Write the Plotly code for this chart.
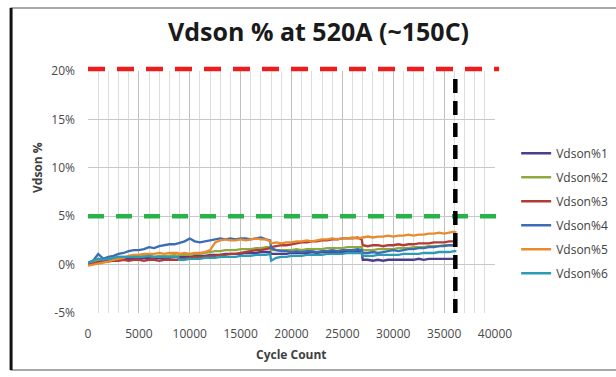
import plotly.graph_objects as go

# cycle counts at which the Vdson % readings were taken
cycles = [0, 500, 1000, 1500, 2000, 2500, 3000, 3500, 4000, 4500,
          5000, 5500, 6000, 6500, 7000, 7500, 8000, 8500, 8800, 9000,
          9500, 10000, 10500, 11000, 11500, 12000, 12500, 13000, 13500, 14000,
          14500, 15000, 15500, 16000, 16500, 17000, 17500, 17900, 18000, 18500,
          19000, 19500, 20000, 20500, 21000, 21500, 22000, 22500, 23000, 23500,
          24000, 24500, 25000, 25500, 26000, 26500, 26900, 27000, 27500, 28000,
          28500, 29000, 29500, 30000, 30500, 31000, 31500, 32000, 32500, 33000,
          33500, 34000, 34500, 35000, 35500, 36000, 36200]

vdson1 = [0.0, 0.2, 0.3, 0.4, 0.4, 0.5, 0.5, 0.6, 0.6, 0.6,
          0.6, 0.7, 0.7, 0.7, 0.7, 0.7, 0.7, 0.8, 0.8, 0.8,
          0.8, 0.8, 0.9, 0.9, 0.9, 1.0, 1.0, 1.0, 1.1, 1.1,
          1.1, 1.1, 1.2, 1.2, 1.2, 1.3, 1.3, 1.3, 1.1, 1.1,
          1.1, 1.1, 1.2, 1.2, 1.2, 1.2, 1.3, 1.2, 1.3, 1.3,
          1.3, 1.3, 1.3, 1.3, 1.3, 1.4, 1.3, 0.5, 0.5, 0.4,
          0.5, 0.4, 0.5, 0.5, 0.5, 0.5, 0.5, 0.5, 0.6, 0.5,
          0.6, 0.6, 0.6, 0.6, 0.6, 0.6, 0.7]

vdson2 = [0.1, 0.3, 0.5, 0.6, 0.6, 0.7, 0.8, 0.8, 0.8, 0.9,
          0.8, 0.9, 0.9, 0.8, 0.9, 0.9, 0.9, 1.0, 0.9, 1.0,
          1.0, 1.0, 1.1, 1.1, 1.2, 1.3, 1.4, 1.4, 1.5, 1.5,
          1.5, 1.6, 1.6, 1.6, 1.7, 1.7, 1.8, 1.8, 1.5, 1.5,
          1.5, 1.5, 1.5, 1.6, 1.5, 1.6, 1.6, 1.6, 1.6, 1.7,
          1.7, 1.7, 1.7, 1.8, 1.8, 1.8, 1.8, 1.5, 1.5, 1.5,
          1.6, 1.6, 1.6, 1.6, 1.7, 1.7, 1.7, 1.8, 1.8, 1.8,
          1.9, 1.9, 1.9, 2.0, 2.0, 2.0, 2.1]

vdson3 = [0.0, 0.1, 0.2, 0.3, 0.3, 0.4, 0.4, 0.5, 0.4, 0.5,
          0.5, 0.4, 0.5, 0.5, 0.4, 0.5, 0.5, 0.5, 0.5, 0.6,
          0.6, 0.7, 0.8, 0.8, 0.8, 0.9, 0.9, 1.0, 1.0, 1.1,
          1.1, 1.2, 1.3, 1.4, 1.5, 1.5, 1.6, 1.7, 1.8, 1.9,
          2.0, 2.0, 2.1, 2.2, 2.3, 2.3, 2.4, 2.4, 2.5, 2.5,
          2.6, 2.6, 2.7, 2.7, 2.7, 2.8, 2.6, 2.0, 1.9, 2.0,
          2.0, 1.9, 2.0, 2.0, 2.1, 2.0, 2.1, 2.1, 2.2, 2.2,
          2.2, 2.3, 2.3, 2.3, 2.4, 2.4, 2.5]

vdson4 = [0.2, 0.4, 1.1, 0.6, 0.8, 0.9, 1.1, 1.2, 1.4, 1.5,
          1.5, 1.6, 1.8, 1.7, 1.9, 2.0, 2.1, 2.1, 2.2, 2.3,
          2.4, 2.7, 2.4, 2.3, 2.4, 2.5, 2.6, 2.7, 2.6, 2.7,
          2.6, 2.7, 2.7, 2.6, 2.7, 2.8, 2.6, 2.5, 1.7, 1.5,
          1.4, 1.4, 1.3, 1.4, 1.3, 1.4, 1.4, 1.3, 1.4, 1.4,
          1.5, 1.4, 1.5, 1.5, 1.5, 1.6, 1.5, 1.2, 1.2, 1.3,
          1.2, 1.3, 1.4, 1.5, 1.4, 1.5, 1.6, 1.6, 1.7, 1.7,
          1.8, 1.8, 1.9, 1.9, 2.0, 2.0, 2.1]

vdson5 = [-0.1, 0.0, 0.1, 0.2, 0.3, 0.5, 0.6, 0.7, 0.9, 1.0,
          1.0, 1.1, 1.1, 1.1, 1.2, 1.1, 1.2, 1.2, 1.2, 1.1,
          1.2, 1.1, 1.2, 1.2, 1.3, 1.5, 2.3, 2.5, 2.6, 2.5,
          2.5, 2.6, 2.5, 2.6, 2.7, 2.6, 2.6, 2.4, 2.2, 2.3,
          2.2, 2.3, 2.3, 2.4, 2.4, 2.5, 2.4, 2.5, 2.6, 2.6,
          2.7, 2.6, 2.7, 2.7, 2.8, 2.7, 2.8, 2.8, 2.9, 2.8,
          2.9, 2.9, 3.0, 2.9, 3.0, 3.0, 3.1, 3.0, 3.1, 3.1,
          3.2, 3.2, 3.3, 3.2, 3.3, 3.4, 3.3]

vdson6 = [0.2, 0.4, 0.6, 0.5, 0.6, 0.7, 0.8, 0.8, 0.8, 0.8,
          0.8, 0.8, 0.9, 0.8, 0.8, 0.8, 0.8, 0.8, 0.8, 0.5,
          0.5, 0.6, 0.6, 0.6, 0.7, 0.7, 0.7, 0.8, 0.8, 0.8,
          0.8, 0.9, 0.9, 0.9, 1.0, 1.0, 1.0, 1.1, 0.4, 0.7,
          0.8, 0.8, 0.9, 0.9, 0.9, 1.0, 1.0, 1.0, 1.0, 1.1,
          1.1, 1.1, 1.1, 1.2, 1.2, 1.2, 1.2, 0.9, 0.9, 0.9,
          1.0, 1.0, 1.0, 1.0, 1.0, 1.1, 1.1, 1.1, 1.1, 1.2,
          1.2, 1.2, 1.3, 1.3, 1.3, 1.4, 1.4]

series_names = ['Vdson%1', 'Vdson%2', 'Vdson%3', 'Vdson%4', 'Vdson%5', 'Vdson%6']
series_colors = ['#4e3d8e', '#8eaa3c', '#b13c36', '#3c6cb4', '#e88a2e', '#2e9bb6']

# axis ticks
x_ticks = [0, 5000, 10000, 15000, 20000, 25000, 30000, 35000, 40000]
x_labels = ['0', '5000', '10000', '15000', '20000', '25000', '30000', '35000', '40000']
y_ticks = [-5, 0, 5, 10, 15, 20]
y_labels = ['-5%', '0%', '5%', '10%', '15%', '20%']

# limit / marker lines
upper_limit = 20.2
warn_limit = 5
end_cycle = 36100

y_min, y_max = -5, 20

fig = go.Figure()

for name, vals, col in zip(series_names, [vdson1, vdson2, vdson3, vdson4, vdson5, vdson6], series_colors):
    fig.add_trace(go.Scatter(x=cycles, y=vals, mode='lines', name=name, legendgroup=name,
                             line=dict(color=col, width=2.3)))

def py(v):
    # y value -> paper coordinate
    return (v - y_min) / (y_max - y_min)

shapes = [
    # outer chart frame
    dict(type='rect', xref='paper', yref='paper', x0=-0.189, x1=1.6, y0=-0.236, y1=1.26,
         line=dict(color='#8c8c8c', width=1.5), layer='below'),
    dict(type='line', xref='paper', yref='paper', x0=-0.189, x1=-0.189, y0=-0.236, y1=1.26,
         line=dict(color='#111111', width=3)),
    dict(type='line', xref='paper', yref='paper', x0=0, x1=1.01, y0=py(upper_limit), y1=py(upper_limit),
         line=dict(color='#ee1c1c', width=4.5, dash='17px,12px')),
    dict(type='line', xref='paper', yref='paper', x0=0, x1=1.01, y0=py(warn_limit), y1=py(warn_limit),
         line=dict(color='#27b24a', width=4.5, dash='16px,12px')),
    dict(type='line', xref='x', yref='paper', x0=end_cycle, x1=end_cycle, y0=0, y1=1,
         line=dict(color='#000000', width=4.5, dash='14px,8px')),
]

fig.update_layout(
    width=616, height=377,
    margin=dict(l=88, r=121, t=71, b=64, autoexpand=False),
    paper_bgcolor='white', plot_bgcolor='white',
    font=dict(family='Open Sans', size=12, color='#4a4a4a'),
    showlegend=True,
    legend=dict(x=1.052, xanchor='left', y=0.72, yanchor='top', itemwidth=30,
                tracegroupgap=5, font=dict(size=12, color='#404040'), bgcolor='rgba(0,0,0,0)'),
    shapes=shapes,
    annotations=[
        dict(text='<b>Vdson % at 520A (~150C)</b>', xref='paper', yref='paper',
             x=(318 - 88) / 407, y=(313 - 31) / 242, xanchor='center', yanchor='middle',
             showarrow=False, font=dict(family='Open Sans', size=25, color='#1a1a1a')),
        dict(text='<b>Vdson %</b>', xref='paper', yref='paper', x=(37 - 88) / 407, y=(313 - 167) / 242,
             xanchor='center', yanchor='middle',
             showarrow=False, textangle=-90, font=dict(size=12, color='#404040')),
        dict(text='<b>Cycle Count</b>', xref='paper', yref='paper', x=0.5, y=(313 - 354) / 242,
             xanchor='center', yanchor='middle',
             showarrow=False, font=dict(size=12, color='#404040')),
    ],
)

fig.update_xaxes(range=[0, 40000], tickvals=x_ticks, ticktext=x_labels, showgrid=True,
                 gridcolor='#bfbfbf', gridwidth=1, automargin=False,
                 minor=dict(dtick=1000, tick0=0, showgrid=True, gridcolor='#dcdcdc', gridwidth=1),
                 zeroline=False, showline=False, ticklabelstandoff=12)
fig.update_yaxes(range=[y_min, y_max], tickvals=y_ticks, ticktext=y_labels, showgrid=True,
                 gridcolor='#c8c8c8', gridwidth=1, zeroline=False, showline=False,
                 automargin=False, ticklabelstandoff=12)

# drop the default page margin so the figure sits at the window's corner
fig.write_html("out.html", config={'displayModeBar': False},
               post_script="document.body.style.margin='0';")
